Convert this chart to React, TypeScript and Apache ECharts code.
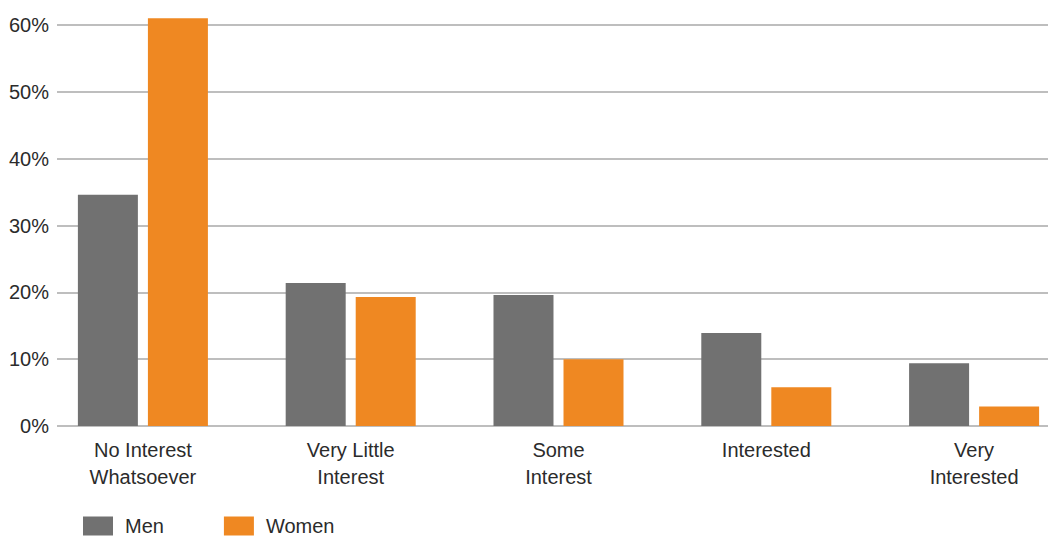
import React, { useEffect, useRef } from "react";
import * as echarts from "echarts";

const categories = [
  "No Interest\nWhatsoever",
  "Very Little\nInterest",
  "Some\nInterest",
  "Interested",
  "Very\nInterested",
];
const menValues = [34.6, 21.4, 19.6, 13.9, 9.4];
const womenValues = [61.0, 19.3, 10.0, 5.8, 2.9];
const yTicks = { min: 0, max: 60, interval: 10 };

const CHART_W = 1090;

export default function App() {
  const ref = useRef<HTMLDivElement>(null);
  useEffect(() => {
    document.body.style.margin = "0";
    const chart = echarts.init(ref.current!, null, { renderer: "svg" });
    const font = "'Liberation Sans', Arial, sans-serif";
    chart.setOption({
      animation: false,
      textStyle: { fontFamily: font },
      legend: {
        left: 83,
        top: 516,
        padding: 0,
        itemWidth: 30,
        itemHeight: 19,
        itemGap: 60,
        icon: "rect",
        textStyle: {
          fontSize: 20,
          lineHeight: 16,
          color: "#2b2b2b",
          fontFamily: font,
          padding: [0, 0, 0, 7],
        },
        data: ["Men", "Women"],
      },
      grid: [
        { left: 57, right: CHART_W - 1048, top: 25, bottom: 111 },
        { left: 39, right: CHART_W - 1078, top: 25, bottom: 111 },
      ],
      xAxis: [
        { type: "category", gridIndex: 0, data: categories, show: false },
        {
          type: "category",
          gridIndex: 1,
          data: categories,
          axisLine: { show: false },
          axisTick: { show: false },
          axisLabel: {
            fontSize: 20,
            lineHeight: 27,
            color: "#2b2b2b",
            margin: 10,
            fontFamily: font,
            interval: 0,
          },
        },
      ],
      yAxis: [
        {
          type: "value",
          gridIndex: 0,
          min: yTicks.min,
          max: yTicks.max,
          interval: yTicks.interval,
          axisLine: { show: false },
          axisTick: { show: false },
          splitLine: { lineStyle: { color: "#a8a8a8", width: 1.5 } },
          axisLabel: {
            formatter: "{value}%",
            fontSize: 20,
            color: "#2b2b2b",
            margin: 8,
            fontFamily: font,
            padding: [0, 0, 7, 0],
          },
        },
        {
          type: "value",
          gridIndex: 1,
          min: yTicks.min,
          max: yTicks.max,
          interval: yTicks.interval,
          show: false,
          splitLine: { show: false },
        },
      ],
      series: [
        {
          name: "Men",
          type: "bar",
          xAxisIndex: 1,
          yAxisIndex: 1,
          data: menValues,
          barWidth: 60,
          barGap: "16.7%",
          clip: false,
          itemStyle: { color: "#717171" },
        },
        {
          name: "Women",
          type: "bar",
          xAxisIndex: 1,
          yAxisIndex: 1,
          data: womenValues,
          barWidth: 60,
          barGap: "16.7%",
          clip: false,
          itemStyle: { color: "#ef8822" },
        },
      ],
    });
    return () => chart.dispose();
  }, []);
  return (
    <div style={{ width: 1048, height: 537, overflow: "hidden" }}>
      <div ref={ref} style={{ width: CHART_W, height: 537 }} />
    </div>
  );
}
